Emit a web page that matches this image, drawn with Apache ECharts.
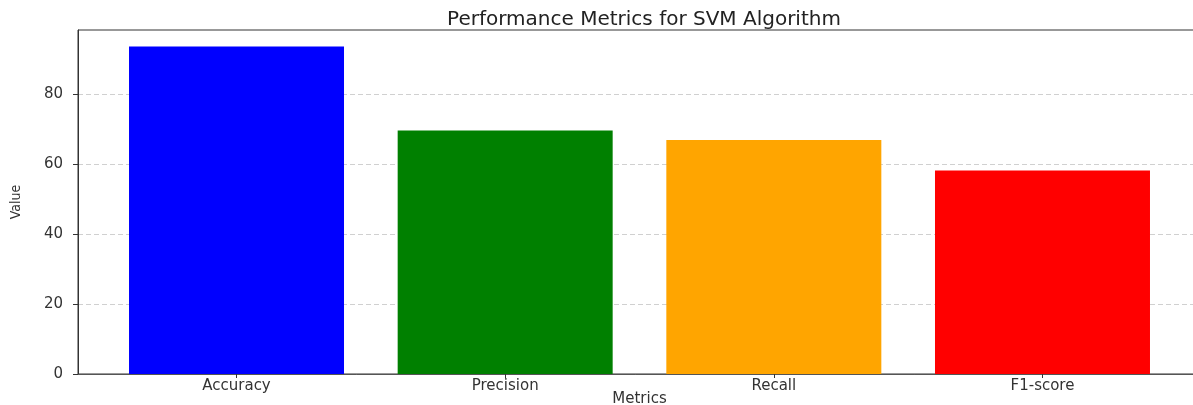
<!DOCTYPE html>
<html>
<head>
<meta charset="utf-8">
<script src="https://cdn.jsdelivr.net/npm/echarts@6/dist/echarts.min.js"></script>
<style>
  html, body { margin: 0; padding: 0; background: #fff; }
  #chart { width: 1193px; height: 405px; }
</style>
</head>
<body>
<div id="chart"></div>
<script>
const categories = ["Accuracy", "Precision", "Recall", "F1-score"];
const values = [93.5, 69.5, 66.8, 58.1];
const barColors = ["#0000ff", "#008000", "#ffa500", "#ff0000"];
const yTicks = [0, 20, 40, 60, 80];

const chart = echarts.init(document.getElementById("chart"));

// bars sit at x = 0..3 like matplotlib, with its 5% margin either side
const barData = values.map((v, i) => ({
  value: [i, v],
  itemStyle: { color: barColors[i] },
}));

const options = {
  animation: false,
  title: {
    text: "Performance Metrics for SVM Algorithm",
    left: 639,
    top: 5,
    textAlign: "center",
    textStyle: {
      fontFamily: "DejaVu Sans",
      fontSize: 20,
      fontWeight: "normal",
      color: "#222",
    },
  },
  grid: {
    left: 78,
    top: 30,
    width: 1123,
    bottom: 31,
    outerBoundsMode: "none",
    containLabel: false,
    show: true,
    borderColor: "#333",
    borderWidth: 1,
  },
  xAxis: {
    type: "value",
    min: -0.59,
    max: 3.59,
    name: "Metrics",
    nameLocation: "middle",
    nameGap: 18,
    nameMoveOverlap: false,
    nameTextStyle: { fontFamily: "DejaVu Sans", fontSize: 15, color: "#333" },
    axisLine: { show: true, onZero: false, lineStyle: { color: "#555" } },
    axisTick: {
      show: true,
      length: 4,
      customValues: [0, 1, 2, 3],
      lineStyle: { color: "#333" },
    },
    axisLabel: {
      customValues: [0, 1, 2, 3],
      formatter: (v) => categories[Math.round(v)],
      margin: 5,
      fontFamily: "DejaVu Sans",
      fontSize: 15,
      color: "#333",
    },
    splitLine: { show: false },
  },
  yAxis: {
    type: "value",
    min: 0,
    max: 98.2,
    interval: 20,
    name: "Value",
    nameLocation: "middle",
    nameGap: 55,
    nameMoveOverlap: false,
    nameTextStyle: {
      fontFamily: "DejaVu Sans Condensed, Liberation Sans",
      fontSize: 14,
      color: "#333",
    },
    axisLine: { show: true, onZero: false, lineStyle: { color: "#333" } },
    axisTick: { show: true, length: 5, lineStyle: { color: "#333" } },
    axisLabel: {
      showMaxLabel: false,
      formatter: (v) => (yTicks.includes(v) ? String(v) : ""),
      margin: 15,
      fontFamily: "DejaVu Sans",
      fontSize: 15,
      color: "#333",
    },
    splitLine: {
      show: true,
      showMinLine: false,
      showMaxLine: false,
      lineStyle: { color: "#d0d0d0", type: [5, 3], width: 1 },
    },
  },
  series: [
    {
      type: "bar",
      data: barData,
      barWidth: 215,
      z: 3,
    },
  ],
};

chart.setOption(options);
</script>
</body>
</html>
